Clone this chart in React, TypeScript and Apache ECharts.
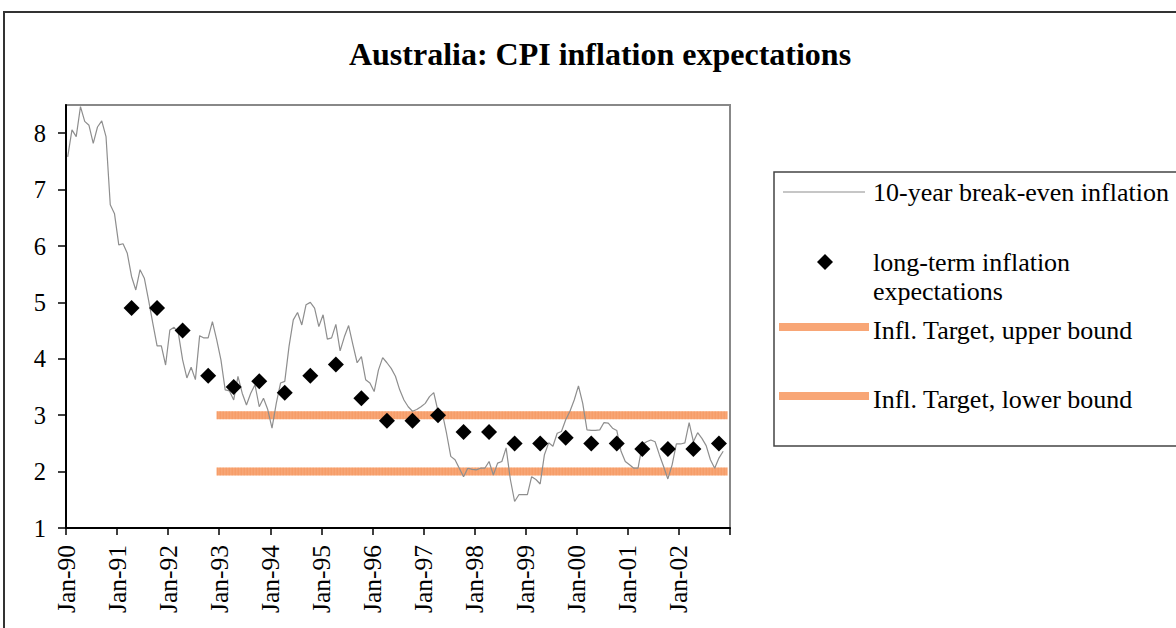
import React, { useEffect, useRef } from "react";
import * as echarts from "echarts";

// Month index 0 = Jan-1990
const tickMonths = [0, 12, 24, 36, 48, 60, 72, 84, 96, 108, 120, 132, 144, 156];
const tickLabels = ["Jan-90", "Jan-91", "Jan-92", "Jan-93", "Jan-94", "Jan-95", "Jan-96", "Jan-97", "Jan-98", "Jan-99", "Jan-00", "Jan-01", "Jan-02", ""];
const yTicks = [1, 2, 3, 4, 5, 6, 7, 8];

// 10-year break-even inflation, monthly from Jan-90
const breakEven = [
  7.58, 8.06, 7.94, 8.47, 8.21, 8.14, 7.82, 8.11, 8.22, 7.94, 6.73, 6.57,
  6.02, 6.04, 5.87, 5.46, 5.22, 5.58, 5.43, 5.04, 4.63, 4.23, 4.23, 3.89,
  4.51, 4.56, 4.45, 3.98, 3.66, 3.85, 3.63, 4.41, 4.37, 4.37, 4.66, 4.34,
  3.98, 3.45, 3.43, 3.27, 3.69, 3.39, 3.18, 3.39, 3.54, 3.15, 3.3, 3.1,
  2.77, 3.21, 3.57, 3.6, 4.22, 4.69, 4.82, 4.6, 4.96, 5.0, 4.9, 4.57,
  4.78, 4.35, 4.37, 4.61, 4.14, 4.39, 4.59, 4.25, 3.93, 4.04, 3.63, 3.57,
  3.42, 3.8, 4.02, 3.93, 3.83, 3.69, 3.45, 3.27, 3.15, 3.07, 3.1, 3.15,
  3.21, 3.33, 3.4, 3.07, 3.04, 2.68, 2.27, 2.21, 2.06, 1.91, 2.06, 2.04,
  2.03, 2.06, 2.06, 2.18, 1.94, 2.15, 2.18, 2.42, 1.86, 1.47, 1.59, 1.59,
  1.59, 1.91, 1.86, 1.78, 2.3, 2.51, 2.45, 2.68, 2.71, 2.92, 3.07, 3.27,
  3.52, 3.21, 2.74, 2.73, 2.73, 2.74, 2.87, 2.86, 2.77, 2.73, 2.36, 2.18,
  2.12, 2.06, 2.06, 2.48, 2.53, 2.56, 2.53, 2.3, 2.09, 1.87, 2.12, 2.49,
  2.49, 2.51, 2.87, 2.53, 2.69, 2.59, 2.46, 2.21, 2.06, 2.24, 2.36,
];

// long-term inflation expectations (survey, half-yearly)
const surveyMonths = [15, 21, 27, 33, 39, 45, 51, 57, 63, 69, 75, 81, 87, 93, 99, 105, 111, 117, 123, 129, 135, 141, 147, 153];
const surveyValues = [4.9, 4.9, 4.5, 3.7, 3.5, 3.6, 3.4, 3.7, 3.9, 3.3, 2.9, 2.9, 3.0, 2.7, 2.7, 2.5, 2.5, 2.6, 2.5, 2.5, 2.4, 2.4, 2.4, 2.5];

// Inflation target band
const targetMonths = [35, 155];
const targetUpper = [3, 3];
const targetLower = [2, 2];

const seriesNames = [
  "10-year break-even inflation",
  "long-term inflation expectations",
  "Infl. Target, upper bound",
  "Infl. Target, lower bound",
];

const MID = 0.4; // observations placed within the month
const FONT = "'Liberation Serif', 'Times New Roman', serif";
const BAND = "#F8A676";
const BAND_DOT = "#F28B4E";

export default function App() {
  const ref = useRef<HTMLDivElement>(null);
  useEffect(() => {
    if (!ref.current) return;
    const chart = echarts.init(ref.current, undefined, { renderer: "svg" });
    const lineData = breakEven.map((v, i) => [i + MID, v]);
    const scatterData = surveyMonths.map((m, i) => [m + MID, surveyValues[i]]);
    const upperData = targetMonths.map((m, i) => [m + MID, targetUpper[i]]);
    const lowerData = targetMonths.map((m, i) => [m + MID, targetLower[i]]);
    const labelFor = (v: number) => {
      const idx = tickMonths.indexOf(Math.round(v));
      return idx >= 0 ? tickLabels[idx] : "";
    };
    const bandSeries = (name: string, data: number[][]) => [
      {
        name,
        type: "line",
        data,
        showSymbol: false,
        symbol: "none",
        lineStyle: { color: BAND, width: 8 },
        z: 1,
      },
      {
        name: name + " ",
        type: "line",
        data,
        showSymbol: false,
        symbol: "none",
        silent: true,
        lineStyle: { color: BAND_DOT, width: 8, type: [1, 2], opacity: 0.45 },
        z: 1,
      },
    ];
    chart.setOption({
      animation: false,
      backgroundColor: "#ffffff",
      title: {
        text: "Australia: CPI inflation expectations",
        left: 600,
        top: 38,
        padding: 0,
        textAlign: "center",
        textStyle: { fontFamily: FONT, fontSize: 32, fontWeight: "bold", color: "#000" },
      },
      grid: {
        left: 66,
        top: 105,
        right: 446,
        bottom: 100,
        show: true,
        borderColor: "#888888",
        borderWidth: 2,
        backgroundColor: "#ffffff",
      },
      xAxis: {
        type: "value",
        min: 0,
        max: 156,
        interval: 12,
        axisLine: { show: true, lineStyle: { color: "#000", width: 2 } },
        axisTick: { show: true, inside: false, length: 7, lineStyle: { color: "#000", width: 1.5 }, customValues: tickMonths },
        axisLabel: {
          customValues: tickMonths.slice(0, 13),
          formatter: (v: number) => labelFor(v),
          rotate: 90,
          margin: 17,
          fontFamily: FONT,
          fontSize: 25.5,
          color: "#000",
        },
        splitLine: { show: false },
      },
      yAxis: {
        type: "value",
        min: 1,
        max: 8.5,
        interval: 1,
        axisLine: { show: true, lineStyle: { color: "#000", width: 2 } },
        axisTick: { show: true, inside: false, length: 8, lineStyle: { color: "#000", width: 1.5 }, customValues: yTicks },
        axisLabel: {
          customValues: yTicks,
          margin: 20,
          fontFamily: FONT,
          fontSize: 24.5,
          color: "#000",
        },
        splitLine: { show: false },
      },
      series: [
        ...bandSeries(seriesNames[2], upperData),
        ...bandSeries(seriesNames[3], lowerData),
        {
          name: seriesNames[0],
          type: "line",
          data: lineData,
          showSymbol: false,
          symbol: "none",
          lineStyle: { color: "#8e8e8e", width: 1.2 },
          z: 2,
        },
        {
          name: seriesNames[1],
          type: "scatter",
          data: scatterData,
          symbol: "diamond",
          symbolSize: 16,
          itemStyle: { color: "#000", opacity: 1 },
          z: 3,
        },
      ],
      graphic: [
        {
          type: "rect",
          shape: { x: 4, y: 12, width: 1300, height: 800 },
          style: { fill: "none", stroke: "#333", lineWidth: 2 },
          silent: true,
          z: -10,
        },
        {
          type: "rect",
          shape: { x: 774, y: 172, width: 420, height: 274 },
          style: { fill: "#fff", stroke: "#444", lineWidth: 1.5 },
          silent: true,
        },
        {
          type: "line",
          shape: { x1: 783, y1: 192, x2: 865, y2: 192 },
          style: { stroke: "#8e8e8e", lineWidth: 1.2 },
        },
        {
          type: "text",
          x: 873,
          y: 192,
          style: { text: seriesNames[0], font: `26px ${FONT}`, fill: "#000", textVerticalAlign: "middle" },
        },
        {
          type: "polygon",
          shape: { points: [[825, 254], [833, 262], [825, 270], [817, 262]] },
          style: { fill: "#000" },
        },
        {
          type: "text",
          x: 873,
          y: 262,
          style: { text: "long-term inflation", font: `26px ${FONT}`, fill: "#000", textVerticalAlign: "middle" },
        },
        {
          type: "text",
          x: 873,
          y: 291,
          style: { text: "expectations", font: `26px ${FONT}`, fill: "#000", textVerticalAlign: "middle" },
        },
        {
          type: "line",
          shape: { x1: 779, y1: 327, x2: 869, y2: 327 },
          style: { stroke: BAND, lineWidth: 8 },
        },
        {
          type: "text",
          x: 873,
          y: 330,
          style: { text: seriesNames[2], font: `26px ${FONT}`, fill: "#000", textVerticalAlign: "middle" },
        },
        {
          type: "line",
          shape: { x1: 779, y1: 396, x2: 869, y2: 396 },
          style: { stroke: BAND, lineWidth: 8 },
        },
        {
          type: "text",
          x: 873,
          y: 399,
          style: { text: seriesNames[3], font: `26px ${FONT}`, fill: "#000", textVerticalAlign: "middle" },
        },
      ],
    });
    return () => chart.dispose();
  }, []);
  return (
    <div
      ref={ref}
      style={{ position: "fixed", left: 0, top: 0, width: 1176, height: 628, background: "#fff" }}
    />
  );
}
